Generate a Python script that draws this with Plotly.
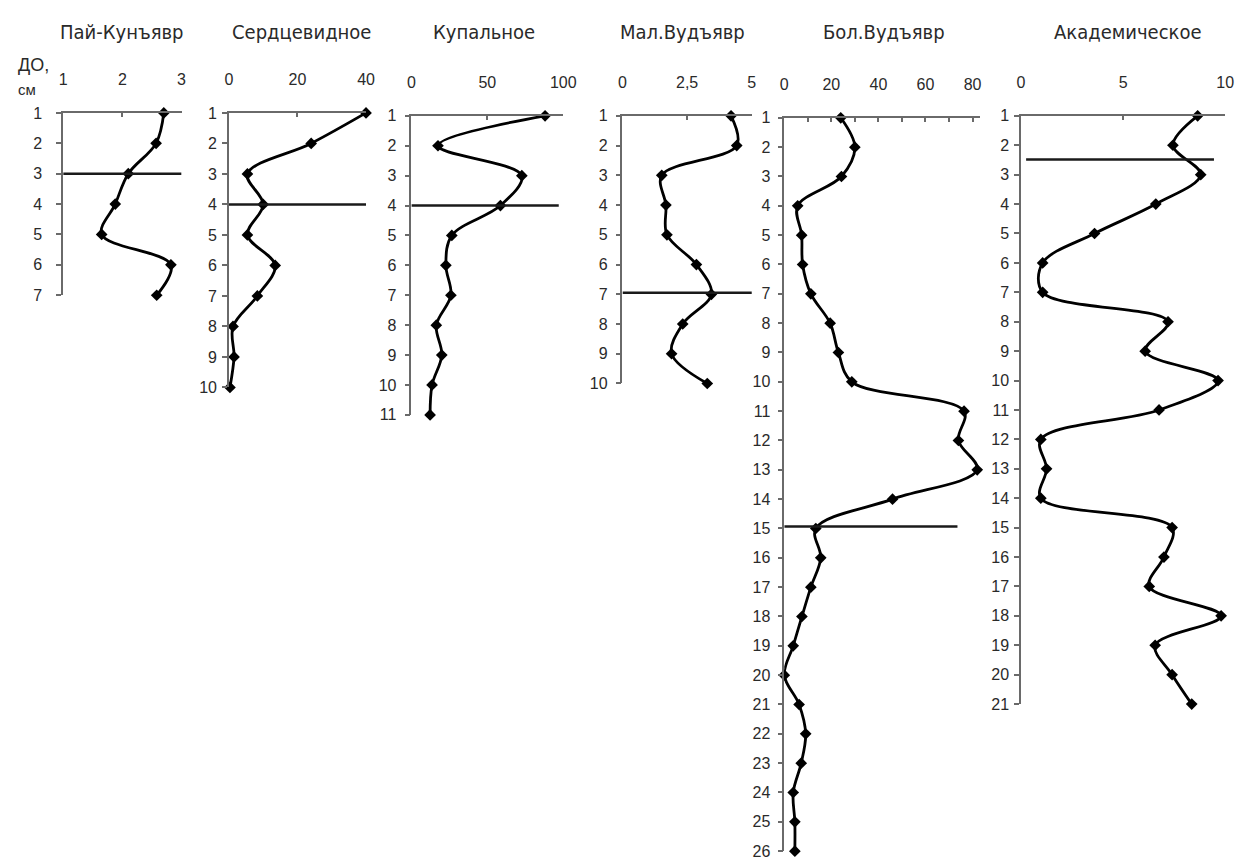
import plotly.graph_objects as go

W, H = 1253, 868

# ---------------- data ----------------
titles = ["Пай-Кунъявр", "Сердцевидное", "Купальное", "Мал.Вудъявр", "Бол.Вудъявр", "Академическое"]

pai_depth = [1, 2, 3, 4, 5, 6, 7]
pai_vals = [2.7, 2.57, 2.1, 1.88, 1.65, 2.82, 2.58]

serd_depth = [1, 2, 3, 4, 5, 6, 7, 8, 9, 10]
serd_vals = [40, 24, 5.4, 10, 5.4, 13.5, 8.3, 1.2, 1.5, 0.3]

kup_depth = [1, 2, 3, 4, 5, 6, 7, 8, 9, 10, 11]
kup_vals = [88, 17.5, 72.7, 58.6, 26.6, 22.7, 26, 16.4, 20, 13.6, 12.3]

mal_depth = [1, 2, 3, 4, 5, 6, 7, 8, 9, 10]
mal_vals = [4.2, 4.42, 1.52, 1.68, 1.72, 2.86, 3.44, 2.33, 1.9, 3.28]

bol_depth = list(range(1, 27))
bol_vals = [24, 30, 24.3, 5.7, 7.4, 7.8, 11.3, 19.5, 23, 28.7, 76.4, 74, 82, 46,
            13.4, 15.5, 11.3, 7.5, 3.8, 0, 6.3, 9.1, 7.2, 3.8, 4.5, 4.5]

akad_depth = list(range(1, 22))
akad_vals = [8.65, 7.44, 8.8, 6.6, 3.6, 1.06, 1.06, 7.2, 6.08, 9.65, 6.76, 0.97,
             1.25, 0.97, 7.4, 7.0, 6.28, 9.8, 6.57, 7.4, 8.36]

# boundary lines: depth, x from, x to
boundary_depth = [3.0, 4.0, 4.0, 6.95, 14.93, 2.48]
boundary_x0 = [1, 0, 0, 0, 0, 0.25]
boundary_x1 = [3, 40, 97, 5.15, 73.6, 9.45]

# x-axis ranges and tick spacing
x_ranges = [[1, 3], [0, 40], [0, 100], [0, 5], [0, 83], [0, 10]]
x_tick0 = [1, 0, 0, 0, 0, 0]
x_dtick = [1, 20, 50, 2.5, 20, 5]

depths = [pai_depth, serd_depth, kup_depth, mal_depth, bol_depth, akad_depth]
values = [pai_vals, serd_vals, kup_vals, mal_vals, bol_vals, akad_vals]

# ---------------- layout geometry (pixels) ----------------
px_x = [(60, 180), (228, 367), (413, 567), (627, 758), (791, 989), (1031, 1238)]
px_y = [(107, 293), (107, 387), (110, 415), (110, 383), (112, 860), (110, 710)]
title_x = [120, 302, 487, 688, 892, 1139]
ylab_standoff = [11, 2, 5, 5, 4, 2]

fig = go.Figure()
layout = dict(
    width=W, height=H,
    margin=dict(l=0, r=0, t=0, b=0),
    paper_bgcolor="white", plot_bgcolor="white",
    showlegend=False,
    separators=", ",
    font=dict(family="Liberation Sans, Arial, sans-serif", color="#2a2a2a"),
)

axis_col = "#6a6a6a"
tick_font = dict(family="Liberation Sans, Arial, sans-serif", size=16, color="#2a2a2a")
annotations = []
for i in range(6):
    n = i + 1
    xs = "x" if n == 1 else f"x{n}"
    ys = "y" if n == 1 else f"y{n}"
    fig.add_trace(go.Scatter(
        x=values[i], y=depths[i], xaxis=xs, yaxis=ys,
        mode="lines+markers",
        line=dict(color="black", width=2.8, shape="spline", smoothing=1),
        marker=dict(symbol="diamond", size=9, color="black"),
        cliponaxis=False,
    ))
    fig.add_trace(go.Scatter(
        x=[boundary_x0[i], boundary_x1[i]], y=[boundary_depth[i], boundary_depth[i]],
        xaxis=xs, yaxis=ys, mode="lines",
        line=dict(color="#1a1a1a", width=2.5), cliponaxis=False, hoverinfo="skip",
    ))
    x0, x1 = px_x[i]
    y0, y1 = px_y[i]
    xa = dict(
        domain=[x0 / W, x1 / W], range=x_ranges[i], side="top",
        anchor=ys, showline=True, linecolor=axis_col, linewidth=1.5,
        ticks="inside", ticklen=4, tickcolor=axis_col, tickwidth=1.5,
        tickmode="linear", tick0=x_tick0[i], dtick=x_dtick[i],
        showgrid=False, zeroline=False,
        tickfont=tick_font, ticklabelstandoff=20, ticklabeloverflow="allow",
        fixedrange=True,
    )
    if n == 5:
        xa["minor"] = dict(dtick=10, tick0=0, ticks="inside", ticklen=4,
                           tickcolor=axis_col, tickwidth=1.5, showgrid=False)
    ya = dict(
        domain=[1 - y1 / H, 1 - y0 / H], range=[max(depths[i]), 1],
        anchor=xs, showline=True, linecolor=axis_col, linewidth=1.5,
        ticks="outside", ticklen=5, tickcolor=axis_col, tickwidth=1.5,
        tickmode="linear", tick0=1, dtick=1,
        showgrid=False, zeroline=False,
        tickfont=tick_font, ticklabelstandoff=ylab_standoff[i],
        fixedrange=True,
    )
    layout["xaxis" if n == 1 else f"xaxis{n}"] = xa
    layout["yaxis" if n == 1 else f"yaxis{n}"] = ya
    annotations.append(dict(
        text=titles[i], x=title_x[i] / W, y=1 - 24 / H, xref="paper", yref="paper",
        xanchor="center", yanchor="middle", showarrow=False,
        font=dict(family="DejaVu Sans Condensed, sans-serif", size=20, color="#2a2a2a"),
    ))

annotations.append(dict(text="ДО,", x=12 / W, y=1 - 58 / H, xref="paper", yref="paper",
                        xanchor="left", yanchor="middle", showarrow=False,
                        font=dict(size=18, color="#2a2a2a")))
annotations.append(dict(text="см", x=12 / W, y=1 - 83 / H, xref="paper", yref="paper",
                        xanchor="left", yanchor="middle", showarrow=False,
                        font=dict(size=15, color="#2a2a2a")))
layout["annotations"] = annotations
fig.update_layout(**layout)
fig.write_html("out.html")
